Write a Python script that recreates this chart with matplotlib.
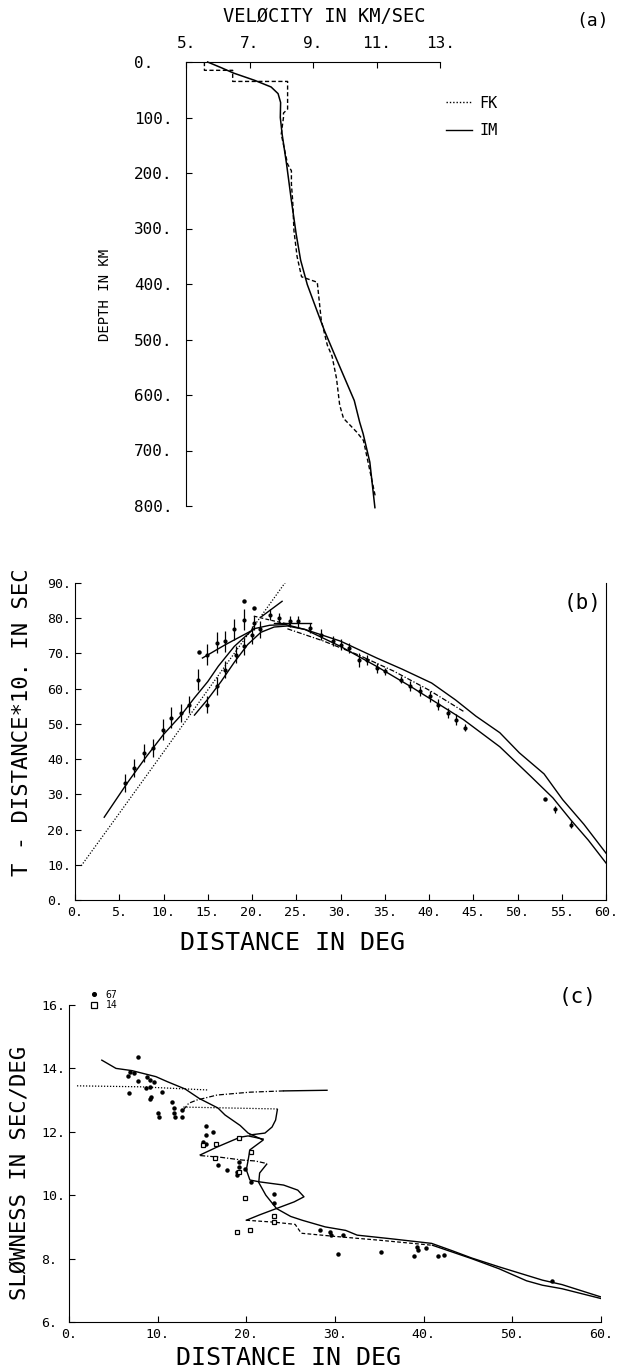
import numpy as np
import matplotlib
matplotlib.use('Agg')
import matplotlib.pyplot as plt
from matplotlib.lines import Line2D

W, H = 617, 1371

# ---- panel (a): velocity model ----
a_im_depth = [0, 10, 20, 33, 45, 57, 73, 100, 131, 185, 250, 310, 357, 401, 449, 484, 530, 570, 610, 649, 670, 721, 803]
a_im_vel = [5.68, 6.1, 6.5, 7.16, 7.68, 7.9, 7.98, 7.97, 8.03, 8.17, 8.32, 8.47, 8.61, 8.82, 9.13, 9.36, 9.7, 10.0, 10.3, 10.47, 10.58, 10.79, 10.95]
a_fk_depth = [0, 15, 15, 35, 35, 85, 92, 100, 130, 184, 196, 220, 250, 304, 351, 387, 397, 400, 465, 510, 530, 570, 618, 642, 667, 682, 782]
a_fk_vel = [5.58, 5.58, 6.47, 6.47, 8.2, 8.2, 8.07, 8.07, 8.0, 8.2, 8.32, 8.32, 8.36, 8.4, 8.5, 8.64, 9.14, 9.14, 9.26, 9.45, 9.6, 9.74, 9.84, 9.96, 10.38, 10.59, 10.96]
a_vel_ticks = [5, 7, 9, 11, 13]
a_depth_ticks = [0, 100, 200, 300, 400, 500, 600, 700, 800]

# ---- panel (b): reduced travel times ----
b_upper_x = [3.3, 5.9, 8.0, 10.0, 12.0, 13.5, 15.0, 16.2, 18.0, 20.2, 22.0, 23.8, 26.0, 30.0, 34.1, 37.0, 40.3, 43.0, 45.3, 48.0, 50.2, 53.0, 55.1, 57.5, 60.0]
b_upper_y = [23.5, 33.2, 40.5, 47.0, 52.5, 57.4, 62.0, 66.4, 72.0, 77.0, 78.0, 78.2, 76.8, 73.5, 68.7, 65.5, 61.6, 56.8, 52.2, 47.5, 41.8, 35.8, 28.5, 21.5, 13.3]
b_lower_x = [13.5, 15.0, 16.5, 18.0, 19.5, 21.0, 22.5, 24.0, 26.0, 30.0, 34.1, 38.0, 43.9, 48.0, 51.5, 54.0, 56.0, 58.0, 60.0]
b_lower_y = [52.5, 57.0, 62.0, 67.5, 72.5, 76.0, 77.5, 77.8, 76.8, 72.0, 66.3, 60.5, 51.2, 43.5, 35.1, 29.0, 22.8, 17.0, 10.5]
b_dash_x = [24.0, 28.0, 32.0, 36.0, 40.0, 44.0]
b_dash_y = [77.0, 73.6, 69.6, 65.0, 59.6, 53.4]
b_dot_x = [0.7, 5.0, 10.0, 15.0, 20.0, 23.8]
b_dot_y = [9.7, 24.6, 42.0, 59.6, 77.0, 90.3]
b_tri_x = [14.4, 17.0, 20.2]
b_tri_y = [68.7, 72.5, 76.8]
b_cusp_x = [21.1, 23.4]
b_cusp_y = [80.5, 84.8]
b_flat_x = [22.5, 26.7]
b_flat_y = [78.7, 78.7]
b_retro_x = [20.2, 22.0, 24.3]
b_retro_y = [80.6, 79.5, 78.2]
b_pts_x = [5.7, 6.7, 7.8, 8.8, 9.9, 10.9, 12.0, 12.9, 13.9, 14.9, 16.0, 17.0, 18.0, 19.1, 20.2, 22.0, 23.1, 24.3, 25.2,
           14.9, 16.0, 16.9, 18.2, 19.1, 20.0, 20.9,
           26.5, 27.8, 29.2, 30.1, 31.0, 32.1, 33.0, 34.1, 35.0, 36.8, 37.9, 39.0, 40.1, 41.0, 42.1, 43.0, 44.1, 54.2, 56.0]
b_pts_y = [33.2, 37.5, 41.8, 43.2, 48.4, 51.7, 53.1, 55.5, 62.6, 69.7, 73.0, 73.5, 76.8, 79.6, 78.7, 81.0, 80.1, 79.1, 79.1,
           55.5, 60.7, 65.4, 69.7, 72.0, 75.3, 76.8,
           77.2, 75.3, 73.5, 72.5, 71.6, 68.2, 68.2, 65.9, 64.9, 62.6, 60.7, 59.3, 57.8, 55.5, 53.1, 51.2, 48.9, 25.7, 21.4]
b_pts_err = [2.5, 2.5, 2.5, 2.5, 3.0, 3.0, 2.5, 2.5, 3.0, 3.0, 3.0, 3.0, 3.0, 3.0, 2.0, 1.5, 1.5, 1.5, 1.5,
             2.5, 2.5, 2.5, 2.5, 2.5, 2.5, 2.5,
             1.5, 1.5, 1.5, 1.5, 1.5, 2.0, 1.5, 1.5, 1.0, 1.0, 1.5, 1.5, 1.5, 1.5, 1.5, 1.5, 1.0, 1.0, 1.0]
b_single_x = [14.0, 19.1, 20.2, 53.1]
b_single_y = [70.3, 84.8, 82.9, 28.7]

# ---- panel (c): slowness ----
c_main_x = [3.7, 5.3, 7.1, 9.8, 11.1, 13.1, 14.7, 16.8, 17.6, 19.3, 20.2, 21.9, 20.4, 20.2, 20.0, 20.4, 21.5, 24.2, 25.8, 26.5, 25.4, 23.4, 21.5, 20.0]
c_main_y = [14.26, 14.0, 13.93, 13.74, 13.58, 13.35, 13.05, 12.75, 12.53, 12.2, 11.96, 11.74, 11.43, 11.1, 10.8, 10.48, 10.42, 10.32, 10.16, 9.95, 9.79, 9.58, 9.38, 9.21]
c_tail_x = [22.3, 21.5, 21.4, 22.2, 23.4, 25.0, 26.3, 28.9, 31.2, 32.5, 36.5, 40.9, 43.2, 45.4, 48.5, 53.4, 55.6, 60.0]
c_tail_y = [10.98, 10.7, 10.4, 10.0, 9.58, 9.33, 9.21, 9.0, 8.89, 8.74, 8.62, 8.48, 8.25, 8.02, 7.74, 7.32, 7.18, 6.79]
c_lowd_x = [20.0, 23.1, 25.5, 26.2, 30.0, 35.0, 41.0]
c_lowd_y = [9.21, 9.15, 9.08, 8.8, 8.7, 8.58, 8.42]
c_low_x = [41.0, 43.2, 45.4, 48.5, 51.6, 53.4, 55.6, 60.0]
c_low_y = [8.42, 8.21, 8.0, 7.68, 7.3, 7.16, 7.05, 6.74]
c_flat1_x = [0.9, 8.0, 15.6]
c_flat1_y = [13.45, 13.42, 13.32]
c_rise_x = [12.9, 13.5, 14.4, 16.7, 20.4, 24.2]
c_rise_y = [12.69, 12.9, 13.0, 13.16, 13.25, 13.29]
c_riseend_x = [24.2, 29.1]
c_riseend_y = [13.29, 13.31]
c_flat2_x = [12.9, 23.6]
c_flat2_y = [12.78, 12.72]
c_hook_x = [23.5, 23.3, 22.9, 22.1, 20.4]
c_hook_y = [12.7, 12.37, 12.15, 11.96, 11.9]
c_branch_x = [14.8, 16.7, 19.3, 20.2, 21.9]
c_branch_y = [11.27, 11.52, 11.83, 11.87, 11.77]
c_flat3_x = [14.8, 17.0, 19.5, 21.0, 22.3]
c_flat3_y = [11.25, 11.2, 11.11, 11.08, 11.0]
c_dots_x = [7.8, 6.9, 7.3, 6.7, 8.8, 9.1, 9.6, 7.8, 6.8, 8.7, 9.1, 10.5, 9.3, 9.1, 10.0, 10.2, 11.6, 11.8, 11.8, 11.9,
            12.8, 12.8, 15.4, 16.2, 15.4, 15.1, 15.4, 16.5, 16.8, 17.8, 19.2, 19.2, 19.2, 19.8, 19.0, 19.0, 20.5,
            23.1, 23.1, 19.0, 28.3, 29.4, 29.6, 30.9, 30.3, 35.2, 38.9, 39.4, 40.3, 41.6, 42.3, 54.5, 39.2]
c_dots_y = [14.37, 13.89, 13.84, 13.76, 13.74, 13.63, 13.58, 13.61, 13.23, 13.37, 13.40, 13.26, 13.11, 13.05, 12.58,
            12.47, 12.95, 12.74, 12.58, 12.47, 12.68, 12.47, 12.18, 12.0, 11.9, 11.68, 11.63, 11.18, 10.95, 10.79,
            11.82, 11.05, 10.89, 10.84, 10.74, 10.63, 10.42, 10.05, 9.74, 8.84, 8.89, 8.84, 8.74, 8.74, 8.16, 8.21,
            8.07, 8.26, 8.32, 8.07, 8.1, 7.3, 8.37]
c_sq_x = [15.1, 16.6, 16.5, 20.5, 19.2, 19.8, 23.1, 23.1, 20.4, 19.0, 19.2]
c_sq_y = [11.58, 11.61, 11.18, 11.37, 10.74, 9.92, 9.35, 9.16, 8.89, 8.84, 11.82]


def box(l, t, r, b):
    return [l / W, 1 - b / H, (r - l) / W, (b - t) / H]


def fxy(x, y):
    return x / W, 1 - y / H


def num_labels(vals):
    return [f'{v}.' for v in vals]


def left_align_yticks(ax, gap_px):
    # plotter style: tick labels flush left at a fixed column
    ax.tick_params(axis='y', pad=gap_px * 0.72)
    for lab in ax.get_yticklabels():
        lab.set_horizontalalignment('left')


plt.rcParams['font.family'] = ['DejaVu Sans Mono']
DOT = (0, (1, 1.4))
DASH = (0, (3, 1.8))
DASHDOT = (0, (4, 1.5, 1, 1.5))
K = 'black'

fig = plt.figure(figsize=(W / 100, H / 100), dpi=100)

# (a)
ax = fig.add_axes(box(186, 62, 440, 506))
ax.plot(a_im_vel, a_im_depth, color=K, lw=1.1, clip_on=False)
ax.plot(a_fk_vel, a_fk_depth, color=K, lw=1.0, ls=DASH, clip_on=False)
ax.set_xlim(5, 13)
ax.set_ylim(800, 0)
ax.xaxis.tick_top()
ax.set_xticks(a_vel_ticks, num_labels(a_vel_ticks))
ax.set_yticks(a_depth_ticks, num_labels(a_depth_ticks))
ax.tick_params(axis='x', direction='in', length=4, pad=8, labelsize=11.5)
ax.tick_params(axis='y', direction='in', length=4, labelsize=11.5)
left_align_yticks(ax, 186 - 134)
for s in ['right', 'bottom']:
    ax.spines[s].set_visible(False)
handles = [Line2D([], [], color=K, lw=1.0, ls=DOT), Line2D([], [], color=K, lw=1.0)]
ax.legend(handles, ['FK', 'IM'], loc='upper left', bbox_to_anchor=fxy(438, 88),
          bbox_transform=fig.transFigure, frameon=False, fontsize=11,
          handlelength=1.7, handletextpad=0.5, labelspacing=0.8, borderpad=0)
fig.text(*fxy(324, 17), 'VELØCITY IN KM/SEC', ha='center', va='center', size=13.5)
fig.text(*fxy(593, 21), '(a)', ha='center', va='center', size=13)
fig.text(*fxy(105, 295), 'DEPTH IN KM', ha='center', va='center', size=10, rotation=90)

# (b)
ax = fig.add_axes(box(75, 583, 606, 900))
ax.plot(b_upper_x, b_upper_y, color=K, lw=1.0)
ax.plot(b_lower_x, b_lower_y, color=K, lw=1.0)
ax.plot(b_dash_x, b_dash_y, color=K, lw=0.9, ls=DASHDOT)
ax.plot(b_dot_x, b_dot_y, color=K, lw=0.9, ls=DOT)
ax.plot(b_tri_x, b_tri_y, color=K, lw=1.0)
ax.plot(b_cusp_x, b_cusp_y, color=K, lw=1.0)
ax.plot(b_flat_x, b_flat_y, color=K, lw=1.0)
ax.plot(b_retro_x, b_retro_y, color=K, lw=0.9, ls=DASH)
ax.errorbar(b_pts_x, b_pts_y, yerr=b_pts_err, fmt='o', ms=2, color=K, elinewidth=0.9, capsize=0)
ax.plot(b_single_x, b_single_y, 'o', ms=2.2, color=K)
ax.set_xlim(0, 60)
ax.set_ylim(0, 90)
b_xt = list(range(0, 61, 5))
b_yt = list(range(0, 91, 10))
ax.set_xticks(b_xt, num_labels(b_xt))
ax.set_yticks(b_yt, num_labels(b_yt))
ax.tick_params(direction='in', length=4, pad=4, labelsize=9.5)
left_align_yticks(ax, 75 - 47)
ax.spines['top'].set_visible(False)
fig.text(*fxy(583, 603), '(b)', ha='center', va='center', size=15)
fig.text(*fxy(22, 722), 'T - DISTANCE*10. IN SEC', ha='center', va='center', size=16, rotation=90)
fig.text(*fxy(292, 943), 'DISTANCE IN DEG', ha='center', va='center', size=18)

# (c)
ax = fig.add_axes(box(69, 1005, 601, 1322))
ax.plot(c_main_x, c_main_y, color=K, lw=1.0)
ax.plot(c_tail_x, c_tail_y, color=K, lw=1.0)
ax.plot(c_lowd_x, c_lowd_y, color=K, lw=0.9, ls=DASH)
ax.plot(c_low_x, c_low_y, color=K, lw=1.0)
ax.plot(c_flat1_x, c_flat1_y, color=K, lw=0.9, ls=DOT)
ax.plot(c_rise_x, c_rise_y, color=K, lw=0.9, ls=DASHDOT)
ax.plot(c_riseend_x, c_riseend_y, color=K, lw=1.0)
ax.plot(c_flat2_x, c_flat2_y, color=K, lw=0.9, ls=DOT)
ax.plot(c_hook_x, c_hook_y, color=K, lw=1.0)
ax.plot(c_branch_x, c_branch_y, color=K, lw=1.0)
ax.plot(c_flat3_x, c_flat3_y, color=K, lw=0.9, ls=DASHDOT)
ax.plot(c_dots_x, c_dots_y, 'o', ms=2.2, color=K, label='67')
ax.plot(c_sq_x, c_sq_y, 's', ms=3.5, mfc='white', mec=K, mew=0.9, label='14')
ax.set_xlim(0, 60)
ax.set_ylim(6, 16)
c_xt = list(range(0, 61, 10))
c_yt = list(range(6, 17, 2))
ax.set_xticks(c_xt, num_labels(c_xt))
ax.set_yticks(c_yt, num_labels(c_yt))
ax.tick_params(direction='in', length=4, pad=4, labelsize=9.5)
left_align_yticks(ax, 69 - 41)
for s in ['top', 'right']:
    ax.spines[s].set_visible(False)
ax.legend(loc='upper left', bbox_to_anchor=fxy(85, 985), bbox_transform=fig.transFigure,
          frameon=False, fontsize=7, handlelength=0.8, handletextpad=0.8,
          labelspacing=0.05, borderpad=0, markerscale=1.2)
fig.text(*fxy(578, 997), '(c)', ha='center', va='center', size=15)
fig.text(*fxy(20, 1173), 'SLØWNESS IN SEC/DEG', ha='center', va='center', size=16, rotation=90)
fig.text(*fxy(288, 1358), 'DISTANCE IN DEG', ha='center', va='center', size=18)

fig.savefig('out.png', dpi=100)
